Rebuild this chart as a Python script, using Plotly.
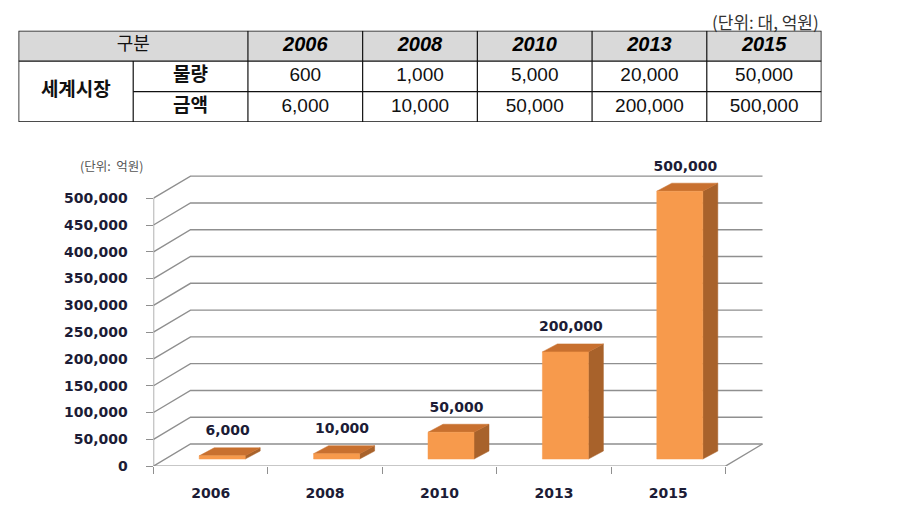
import plotly.graph_objects as go

# ---------------- data ----------------
years = ["2006", "2008", "2010", "2013", "2015"]
units_qty = [600, 1000, 5000, 20000, 50000]          # 물량 (대)
amounts = [6000, 10000, 50000, 200000, 500000]      # 금액 (억원)
y_ticks = [0, 50000, 100000, 150000, 200000, 250000, 300000, 350000, 400000, 450000, 500000]
table_head = "구분"
row_group = "세계시장"
row_labels = ["물량", "금액"]

W, H = 907, 526
OFFX, OFFY, SY = 7.5, 8.4, 0.9816   # page <-> figure pixel mapping (page margin)

def fx(p):  # page pixel x -> paper fraction
    return (p - OFFX) / W

def fy(p):  # page pixel y -> paper fraction
    return 1 - ((p - OFFY) / SY) / H

# ---------------- chart geometry (pixel based styling, figure pixels) ----------------
PX_X = 114.4                                  # pixels per category
Y_PX0, Y_PX500 = 465, 198                     # page pixel of 0 and 500,000
PX_Y = (Y_PX0 - Y_PX500) / SY / 500000        # figure pixels per unit
ux = lambda p: p / PX_X
uy = lambda p: p / SY / PX_Y

DEPTH_X, DEPTH_Y = ux(37), uy(22)
BAR_OFF_X, BAR_BASE = ux(11.5), uy(7)
BAR_W = ux(46)
BAR_DX, BAR_DY = ux(15), uy(8)

x_left = -0.5
x_right = len(years) - 0.5
AX_PX = 153
chart_x_dom = [fx(AX_PX), 1.0]
chart_x_range = [x_left, x_left + (W + OFFX - AX_PX) / PX_X]
TOP_PX = 140
chart_y_dom = [fy(Y_PX0), fy(TOP_PX)]
chart_y_range = [0, uy(Y_PX0 - TOP_PX)]

GRID = "#8f8f8f"
FRONT, TOP, SIDE = "#F79A4C", "#C8702F", "#A8622B"
TXT = "#1c1c36"

fig = go.Figure()

# gridlines: left wall diagonal + back wall
gx, gy = [], []
for v in y_ticks:
    gx += [x_left, x_left + DEPTH_X, x_right + DEPTH_X, None]
    gy += [v, v + DEPTH_Y, v + DEPTH_Y, None]
# floor front edge and right diagonal
gx += [x_left, x_right, x_right + DEPTH_X, None]
gy += [0, 0, DEPTH_Y, None]
# front vertical axis
gx += [x_left, x_left, None]
gy += [0, y_ticks[-1], None]
fig.add_trace(go.Scatter(x=gx, y=gy, mode="lines", line=dict(color=GRID, width=1.4),
                         hoverinfo="skip", showlegend=False, cliponaxis=False))

# 3D bars
for i, v in enumerate(amounts):
    x0 = i + BAR_OFF_X - BAR_W / 2
    x1 = i + BAR_OFF_X + BAR_W / 2
    y0 = BAR_BASE
    y1 = BAR_BASE + v
    side_x = [x1, x1 + BAR_DX, x1 + BAR_DX, x1, x1]
    side_y = [y0, y0 + BAR_DY, y1 + BAR_DY, y1, y0]
    top_x = [x0, x1, x1 + BAR_DX, x0 + BAR_DX, x0]
    top_y = [y1, y1, y1 + BAR_DY, y1 + BAR_DY, y1]
    front_x = [x0, x1, x1, x0, x0]
    front_y = [y0, y0, y1, y1, y0]
    for px, py, col in ((side_x, side_y, SIDE), (top_x, top_y, TOP), (front_x, front_y, FRONT)):
        fig.add_trace(go.Scatter(x=px, y=py, mode="lines", fill="toself", fillcolor=col,
                                 line=dict(color=col, width=0.5), hoverinfo="skip",
                                 showlegend=False))

CHART_FONT = dict(family="DejaVu Sans", size=14, color=TXT, weight="bold")

# bar value labels
fig.add_trace(go.Scatter(
    x=[i + BAR_OFF_X + BAR_DX / 2 - ux(2) for i in range(len(amounts))],
    y=[BAR_BASE + v + uy(24) for v in amounts],
    mode="text", text=[f"{v:,}" for v in amounts], textposition="middle center",
    textfont=CHART_FONT, hoverinfo="skip", showlegend=False, cliponaxis=False))

fig.update_layout(
    xaxis=dict(domain=chart_x_dom, range=chart_x_range, showgrid=False, zeroline=False,
               showline=False, tickmode="array", tickvals=list(range(len(years))),
               ticktext=years, ticks="", ticklabelstandoff=17, tickfont=CHART_FONT,
               minor=dict(tickmode="array",
                          tickvals=[i + 0.5 for i in range(-1, len(years))],
                          ticks="outside", ticklen=7, tickcolor=GRID, tickwidth=1.4)),
    yaxis=dict(domain=chart_y_dom, range=chart_y_range, showgrid=False, zeroline=False,
               showline=False, tickmode="array", tickvals=y_ticks, tickformat=",",
               ticks="outside", ticklen=7, tickcolor=GRID, tickwidth=1.4,
               ticklabelstandoff=15, tickfont=CHART_FONT),
)

# ---------------- table ----------------
ncol = 2 + len(years)
nrow = 3
tab_x_dom = [fx(18), fx(821)]
tab_y_dom = [fy(122), fy(31)]
fig.update_layout(
    xaxis2=dict(domain=tab_x_dom, range=[0, ncol], visible=False, anchor="y2"),
    yaxis2=dict(domain=tab_y_dom, range=[0, nrow], visible=False, anchor="x2"),
)

shapes = []
shapes.append(dict(type="rect", xref="x2", yref="y2", x0=0, x1=ncol, y0=2, y1=3,
                   fillcolor="#D9D9D9", line=dict(width=0), layer="below"))
def seg(x0, y0, x1, y1, w=1.2):
    shapes.append(dict(type="line", xref="x2", yref="y2", x0=x0, y0=y0, x1=x1, y1=y1,
                       line=dict(color="#111111", width=w)))
seg(0, 2, ncol, 2)
seg(1, 1, ncol, 1)
seg(1, 0, 1, 2)
for c in range(2, ncol):
    seg(c, 0, c, 3)
shapes.append(dict(type="rect", xref="x2", yref="y2", x0=0, x1=ncol, y0=0, y1=3,
                   line=dict(color="#111111", width=1.6)))
fig.update_layout(shapes=shapes)

TFONT = "Liberation Sans, Arial, Noto Sans CJK KR"
KFONT = "Noto Sans CJK KR"
fig.add_trace(go.Scatter(x=[1], y=[2.5], xaxis="x2", yaxis="y2", mode="text",
                         text=[table_head], textfont=dict(family=KFONT, size=18, color="#111"),
                         hoverinfo="skip", showlegend=False))
fig.add_trace(go.Scatter(x=[2.5 + j for j in range(len(years))], y=[2.5] * len(years),
                         xaxis="x2", yaxis="y2", mode="text",
                         text=[f"<b><i>{y}</i></b>" for y in years],
                         textfont=dict(family=TFONT, size=20, color="#000"),
                         hoverinfo="skip", showlegend=False))
fig.add_trace(go.Scatter(x=[0.5, 1.5, 1.5], y=[1, 1.5, 0.5], xaxis="x2", yaxis="y2",
                         mode="text",
                         text=[f"<b>{row_group}</b>"] + [f"<b>{r}</b>" for r in row_labels],
                         textfont=dict(family=KFONT, size=19, color="#111"),
                         hoverinfo="skip", showlegend=False))
fig.add_trace(go.Scatter(x=[2.5 + j for j in range(len(years))] * 2,
                         y=[1.5] * len(years) + [0.5] * len(years),
                         xaxis="x2", yaxis="y2", mode="text",
                         text=[f"{v:,}" for v in units_qty] + [f"{v:,}" for v in amounts],
                         textfont=dict(family=TFONT, size=19, color="#111"),
                         hoverinfo="skip", showlegend=False))

fig.update_layout(
    width=W, height=H, margin=dict(l=0, r=0, t=0, b=0),
    paper_bgcolor="white", plot_bgcolor="white", showlegend=False,
    annotations=[
        dict(text="(단위: 대, 억원)", xref="paper", yref="paper", x=fx(819), y=1.0,
             xanchor="right", yanchor="top", showarrow=False, borderpad=0,
             font=dict(family=KFONT, size=17, color="#333")),
        dict(text="(단위:  억원)", xref="paper", yref="paper", x=fx(111), y=fy(165),
             xanchor="center", yanchor="middle", showarrow=False,
             font=dict(family=KFONT, size=12.5, color="#555")),
    ],
)

fig.write_html("out.html")
